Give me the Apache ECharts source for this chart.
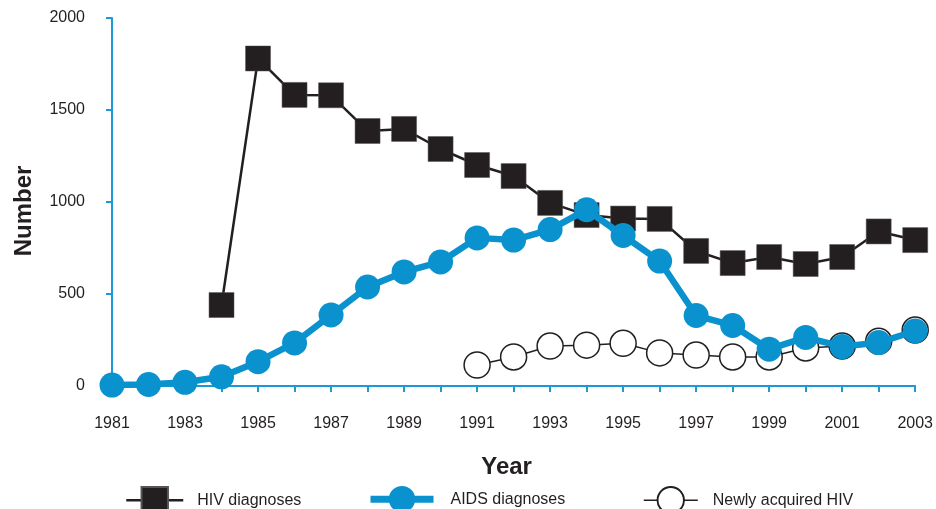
<!DOCTYPE html>
<html>
<head>
<meta charset="utf-8">
<script src="https://cdn.jsdelivr.net/npm/echarts@6/dist/echarts.min.js"></script>
<style>
html,body{margin:0;padding:0;background:#fff;}
#chart{width:936px;height:509px;}
</style>
</head>
<body>
<div id="chart"></div>
<script>
var years = ['1981','1982','1983','1984','1985','1986','1987','1988','1989','1990','1991','1992','1993','1994','1995','1996','1997','1998','1999','2000','2001','2002','2003'];
var hivDiagnoses = [null,null,null,440,1780,1582,1580,1386,1397,1288,1201,1141,995,929,910,908,734,668,701,663,701,840,793];
var aidsDiagnoses = [5,8,20,50,132,234,386,538,620,674,805,793,850,958,818,679,383,329,200,264,214,236,299];
var newlyAcquired = [null,null,null,null,null,null,null,null,null,null,114,158,217,222,232,180,168,158,158,207,217,243,304];
var yTicks = [0, 500, 1000, 1500, 2000];

var AXIS = '#1b9ad6';
var BLUE = '#0a92cf';
var DARK = '#231f20';
var FONT = '"Liberation Sans", Arial, sans-serif';

var legendText = function (pad) {
  return {fontFamily: FONT, fontSize: 16, color: DARK, padding: [0, 0, 0, pad]};
};

var chart = echarts.init(document.getElementById('chart'));
chart.setOption({
  animation: false,
  backgroundColor: '#ffffff',
  textStyle: {fontFamily: FONT, color: DARK},
  grid: {left: 112, right: 16, top: 18, bottom: 123, containLabel: false},
  legend: [
    {left: 125, top: 486, padding: 0, itemWidth: 57, itemHeight: 33, data: ['HIV diagnoses'],
     lineStyle: {width: 2.5}, textStyle: legendText(9)},
    {left: 367, top: 486, padding: 0, itemWidth: 63, itemHeight: 33, data: ['AIDS diagnoses'],
     lineStyle: {width: 7}, textStyle: legendText(12)},
    {left: 643, top: 486, padding: 0, itemWidth: 54, itemHeight: 33, data: ['Newly acquired HIV'],
     lineStyle: {width: 1.5}, textStyle: legendText(10)}
  ],
  xAxis: {
    type: 'category',
    data: years,
    boundaryGap: false,
    name: 'Year',
    nameLocation: 'middle',
    nameGap: 69,
    nameTextStyle: {fontFamily: FONT, fontSize: 24, fontWeight: 'bold', color: DARK, padding: [0, 14, 0, 0]},
    axisLine: {show: true, lineStyle: {color: AXIS, width: 2}},
    axisTick: {show: true, interval: 0, length: 6, lineStyle: {color: AXIS, width: 2}},
    axisLabel: {interval: 1, margin: 30, fontSize: 16, color: DARK, fontFamily: FONT},
    splitLine: {show: false}
  },
  yAxis: {
    type: 'value',
    min: yTicks[0], max: yTicks[yTicks.length - 1], interval: 500,
    name: 'Number',
    nameLocation: 'middle',
    nameGap: 76,
    nameTextStyle: {fontFamily: FONT, fontSize: 24, fontWeight: 'bold', color: DARK, padding: [0, 18, 0, 0]},
    axisLine: {show: true, lineStyle: {color: AXIS, width: 2}},
    axisTick: {show: true, length: 6, lineStyle: {color: AXIS, width: 2}},
    axisLabel: {margin: 27, fontSize: 16, color: DARK, fontFamily: FONT, padding: [6, 0, 0, 0],
      formatter: function (v) { return String(v); }},
    splitLine: {show: false}
  },
  series: [
    {
      name: 'HIV diagnoses', type: 'line', data: hivDiagnoses, z: 2,
      symbol: 'rect', symbolSize: 25, showAllSymbol: true, connectNulls: false,
      lineStyle: {color: DARK, width: 2.5},
      itemStyle: {color: DARK, borderColor: '#555', borderWidth: 0.5}
    },
    {
      name: 'Newly acquired HIV', type: 'line', data: newlyAcquired, z: 3,
      symbol: 'circle', symbolSize: 26, showAllSymbol: true,
      lineStyle: {color: DARK, width: 1.5},
      itemStyle: {color: '#ffffff', borderColor: DARK, borderWidth: 1.5}
    },
    {
      name: 'AIDS diagnoses', type: 'line', data: aidsDiagnoses, z: 4,
      symbol: 'circle', symbolSize: 25, showAllSymbol: true,
      lineStyle: {color: BLUE, width: 6.5},
      itemStyle: {color: BLUE}
    }
  ]
});
</script>
</body>
</html>
